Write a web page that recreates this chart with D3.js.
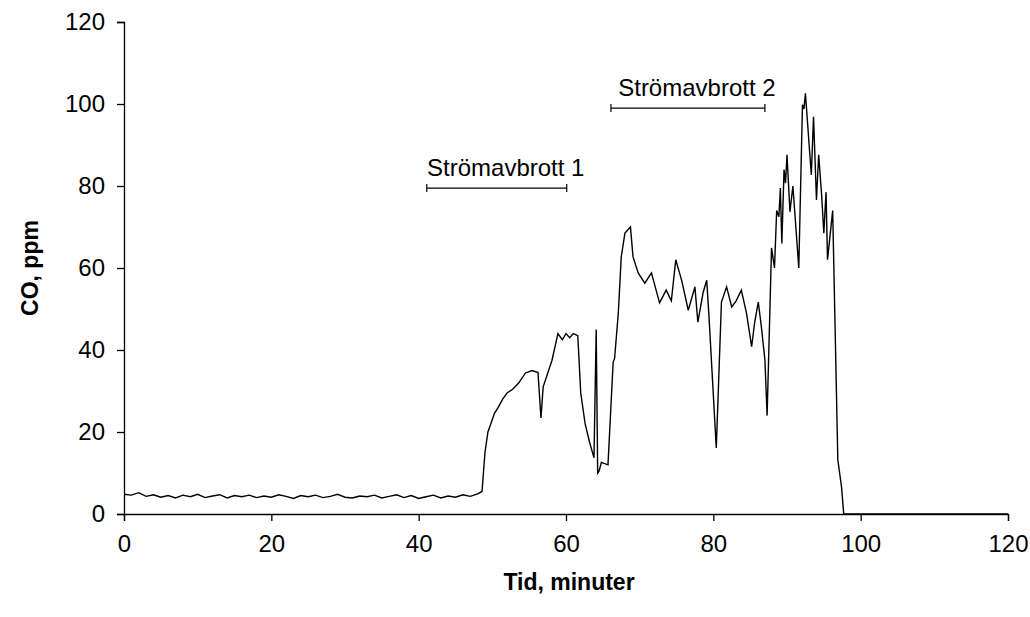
<!DOCTYPE html>
<html><head><meta charset="utf-8">
<script src="https://cdn.jsdelivr.net/npm/d3@7"></script>
<style>body{margin:0;background:#fff}text{font-family:"Liberation Sans",Arial,sans-serif}</style>
</head><body>
<script>
// baseline period, one reading per minute
const baseTimes = [0,1,2,3,4,5,6,7,8,9,10,11,12,13,14,15,16,17,18,19,20,21,22,23,24,25,26,27,28,29,30,31,32,33,34,35,36,37,38,39,40,41,42,43,44,45,46,47,48]
const baseValues = [4.8,4.6,5.2,4.3,4.7,4.1,4.5,3.9,4.6,4.2,4.8,4.0,4.4,4.7,3.9,4.5,4.2,4.6,4.0,4.4,4.1,4.7,4.3,3.8,4.5,4.2,4.6,4.0,4.3,4.8,4.1,3.9,4.4,4.2,4.6,3.9,4.3,4.7,4.0,4.5,3.8,4.2,4.6,3.9,4.4,4.1,4.7,4.3,4.9]
// fire period
const fireTimes = [48.6,49.0,49.4,49.8,50.3,50.8,51.4,52.0,52.8,53.6,54.5,55.4,56.2,56.6,56.9,58.1,58.9,59.5,60.0,60.5,61.0,61.6,62.0,62.6,63.2,63.8,64.1,64.3,64.5,64.8,65.7,66.4,66.6,67.1,67.5,68.0,68.75,69.1,69.8,70.7,71.6,72.7,73.6,74.3,74.9,75.7,76.6,77.5,77.9,78.6,79.1,79.4,80.4,81.1,81.8,82.5,83.1,83.8,84.5,85.2,85.6,86.1,86.5,87.0,87.3,87.9,88.3,88.6,88.9,89.1,89.3,89.6,89.8,90.0,90.4,90.8,91.6,92.1,92.3,92.5,93.3,93.6,94.0,94.3,94.7,95.0,95.3,95.5,96.2,96.9,97.4,97.7,98.5,100,110,120]
const fireValues = [5.5,15,20,22,24.6,26,28,29.5,30.5,32,34.4,35,34.5,23.4,31,37.5,44,42.5,44,43,44,43.5,29.5,22,17.5,13.7,45,10,10.5,12.6,12,37,38,49,62.7,68.5,70,62.7,58.8,56.3,58.8,51.5,54.6,52,62,57,49.7,55.4,46.8,53.9,57,48.5,16.1,51.7,55.4,50.5,52,54.6,49,40.8,46.6,51.7,46,37.6,24,64.9,60,74,72.5,79.5,66,84,80.7,87.6,73.7,80,60,99.8,98.8,102.6,82.7,96.9,76.6,87.6,77.8,68.5,78.5,62,74,13.2,6.6,0,0,0,0,0]
const xTicks = [0,20,40,60,80,100,120]
const yTicks = [0,20,40,60,80,100,120]
const events = ['Strömavbrott 1','Strömavbrott 2']
const eventStart = [41.1,66.1]
const eventEnd = [60.1,87]
const eventLevel = [79.5,99]

const data = baseTimes.map((t,i)=>({t,v:baseValues[i]}))
  .concat(fireTimes.map((t,i)=>({t,v:fireValues[i]})))

const W = 1030, H = 617
const m = {left:124, top:22, right:1008, bottom:514}
const svg = d3.select('body').append('svg').attr('width',W).attr('height',H)

const x = d3.scaleLinear().domain([0,120]).range([m.left,m.right])
const y = d3.scaleLinear().domain([0,120]).range([m.bottom,m.top])

svg.append('g').attr('transform','translate(0,'+m.bottom+')')
  .call(d3.axisBottom(x).tickValues(xTicks).tickSize(7).tickPadding(14))
svg.append('g').attr('transform','translate('+m.left+',0)')
  .call(d3.axisLeft(y).tickValues(yTicks).tickSize(7).tickPadding(12))
svg.selectAll('.domain').attr('stroke','#000').attr('stroke-width',1.3)
svg.selectAll('.tick line').attr('stroke','#000').attr('stroke-width',1.3)
svg.selectAll('.tick text').style('font-size','24px').attr('fill','#000')
  .style('font-family','"Liberation Sans",Arial,sans-serif')

svg.append('path').datum(data)
  .attr('fill','none').attr('stroke','#000').attr('stroke-width',1.4)
  .attr('d', d3.line().x(d=>x(d.t)).y(d=>y(d.v)))

events.forEach((e,i)=>{
  const g = svg.append('g').attr('stroke','#000').attr('stroke-width',1.2)
  g.append('line').attr('x1',x(eventStart[i])).attr('x2',x(eventEnd[i]))
    .attr('y1',y(eventLevel[i])).attr('y2',y(eventLevel[i]))
  ;[eventStart[i],eventEnd[i]].forEach(t=>g.append('line')
    .attr('x1',x(t)).attr('x2',x(t)).attr('y1',y(eventLevel[i])-4).attr('y2',y(eventLevel[i])+4))
  svg.append('text').attr('x',(x(eventStart[i])+x(eventEnd[i]))/2 + 9)
    .attr('y',y(eventLevel[i])-12).attr('text-anchor','middle')
    .style('font-size','24px').text(e)
})

svg.append('text').attr('x',(m.left+m.right)/2 + 3).attr('y',590)
  .attr('text-anchor','middle').style('font-size','23px').style('font-weight','bold')
  .text('Tid, minuter')
svg.append('text').attr('transform','translate(38,'+((m.top+m.bottom)/2)+')rotate(-90)')
  .attr('text-anchor','middle').style('font-size','23px').style('font-weight','bold')
  .text('CO, ppm')
</script>
</body></html>
